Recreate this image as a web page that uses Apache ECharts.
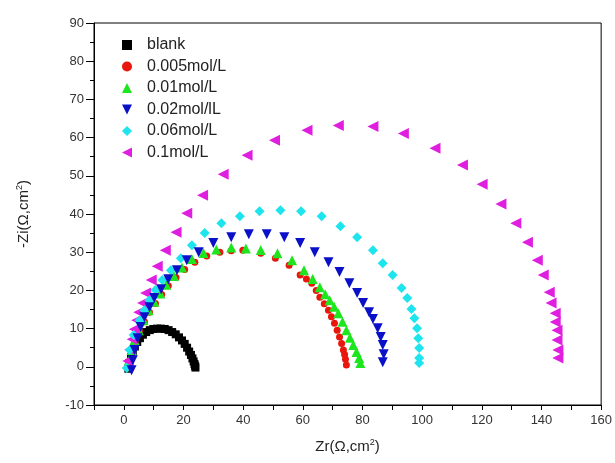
<!DOCTYPE html>
<html>
<head>
<meta charset="utf-8">
<script src="https://cdn.jsdelivr.net/npm/echarts@6/dist/echarts.min.js"></script>
<style>
html, body { margin: 0; padding: 0; background: #fff; }
#main { width: 615px; height: 463px; }
</style>
</head>
<body>
<div id="main"></div>
<script>
// 图例名称
var seriesNames = ['blank', '0.005mol/L', '0.01mol/L', '0.02mol/lL', '0.06mol/L', '0.1mol/L'];

// blank
var blankX = [1.5, 1.9, 2.4, 3.0, 3.7, 4.5, 5.4, 6.4, 7.5, 8.7, 9.9, 11.1, 12.4, 13.7, 15.0, 16.2, 17.4, 18.5, 19.5, 20.4, 21.2, 21.9, 22.5, 23.0, 23.4, 23.7, 23.9, 24.0];
var blankY = [-0.5, 1.0, 2.5, 4.0, 5.3, 6.5, 7.5, 8.4, 9.1, 9.6, 9.9, 10.0, 10.0, 9.9, 9.6, 9.1, 8.5, 7.7, 6.9, 6.0, 5.0, 4.0, 3.1, 2.2, 1.4, 0.7, 0.2, -0.2];

// 0.005mol/L
var c1X = [1.8, 2.8, 3.8, 5.2, 6.9, 8.6, 10.6, 12.7, 14.9, 17.5, 20.4, 23.8, 27.8, 32.2, 36.0, 39.9, 45.9, 50.8, 55.4, 59.1, 61.2, 63.0, 64.5, 65.7, 67.2, 68.6, 69.6, 70.6, 71.5, 72.3, 73.0, 73.6, 74.0, 74.3, 74.6];
var c1Y = [1.5, 4.0, 6.6, 9.2, 11.8, 14.3, 16.6, 18.9, 21.2, 23.4, 25.5, 27.4, 29.0, 30.0, 30.4, 30.5, 29.7, 28.4, 26.6, 24.0, 23.0, 21.9, 20.0, 18.2, 16.5, 14.8, 13.1, 11.4, 9.6, 7.8, 6.1, 4.4, 3.2, 2.0, 0.5];

// 0.01mol/L
var c2X = [1.7, 2.6, 3.6, 5.0, 6.6, 8.3, 10.2, 12.2, 14.2, 16.8, 19.5, 22.8, 26.7, 31.0, 36.0, 40.9, 45.9, 51.5, 56.4, 60.4, 63.3, 65.7, 67.5, 69.0, 70.5, 71.9, 73.3, 74.6, 75.8, 76.9, 78.0, 78.9, 79.3];
var c2Y = [1.7, 4.4, 7.0, 9.6, 12.2, 14.8, 17.0, 19.2, 21.5, 23.8, 26.0, 28.2, 29.8, 30.7, 31.2, 31.0, 30.6, 29.7, 27.9, 25.3, 23.0, 20.8, 19.0, 17.4, 15.7, 14.0, 11.8, 9.6, 7.6, 5.7, 3.9, 2.3, 1.0];

// 0.02mol/L
var c3X = [2.6, 3.0, 3.6, 4.6, 5.6, 6.9, 8.6, 10.2, 12.5, 14.9, 17.8, 21.1, 25.1, 30.0, 36.0, 41.9, 47.9, 53.8, 59.1, 64.0, 68.6, 72.3, 75.6, 78.2, 80.2, 82.2, 83.5, 85.1, 86.1, 86.8, 87.1, 86.8];
var c3Y = [-0.9, 1.7, 4.4, 7.5, 10.4, 13.0, 15.6, 18.0, 20.3, 22.9, 25.3, 27.9, 30.0, 32.4, 33.9, 34.7, 34.7, 33.9, 32.4, 30.0, 27.4, 24.8, 21.9, 19.3, 16.7, 14.3, 12.5, 10.1, 7.8, 5.7, 3.3, 1.2];

// 0.06mol/L
var c4X = [1.0, 2.0, 3.3, 5.3, 6.9, 8.6, 10.6, 12.9, 15.8, 19.1, 22.8, 27.1, 32.7, 38.9, 45.5, 52.5, 59.4, 66.3, 72.6, 78.2, 83.5, 86.8, 90.1, 93.1, 95.0, 96.4, 97.4, 98.3, 98.7, 99.0, 99.0, 99.0];
var c4Y = [-0.3, 4.4, 8.3, 12.2, 14.8, 17.4, 20.1, 22.7, 25.3, 28.4, 31.8, 35.0, 37.6, 39.4, 40.7, 41.0, 40.7, 39.4, 36.8, 33.9, 30.5, 27.1, 24.0, 20.6, 18.0, 15.1, 12.7, 10.1, 7.5, 4.9, 2.3, 1.0];

// 0.1mol/L
var c5X = [1.3, 2.0, 2.8, 3.5, 4.3, 5.0, 6.3, 7.3, 9.2, 11.2, 13.9, 17.5, 21.1, 26.4, 33.3, 41.3, 50.5, 61.4, 71.9, 83.5, 93.7, 104.3, 113.5, 120.1, 126.4, 131.4, 135.3, 138.6, 140.6, 142.6, 143.2, 144.6, 144.6, 145.2, 145.2, 145.5, 145.5];
var c5Y = [1.5, 4.5, 7.2, 9.8, 12.2, 14.3, 16.7, 19.3, 22.7, 26.3, 30.5, 35.2, 40.2, 44.9, 50.4, 55.4, 59.3, 61.9, 63.2, 62.9, 61.1, 57.2, 52.8, 47.8, 42.6, 37.6, 32.6, 27.9, 24.0, 19.5, 16.7, 14.0, 11.7, 9.6, 7.0, 4.4, 2.3];

var xTickLabels = [0, 20, 40, 60, 80, 100, 120, 140, 160];

function zip(xs, ys) {
	var arr = [];
	for(var i = 0; i < xs.length; i++) {
		arr.push([xs[i], ys[i]]);
	}
	return arr;
}

var seriesX = [blankX, c1X, c2X, c3X, c4X, c5X];
var seriesY = [blankY, c1Y, c2Y, c3Y, c4Y, c5Y];
var symbols = ['rect', 'circle', 'triangle', 'triangle', 'diamond', 'triangle'];
var rotates = [0, 0, 0, 180, 0, 90];
var sizes = [8, 7, 10, 10, 10, 11];
var colors = ['#000000', '#e8160c', '#1ee61e', '#0a10c8', '#1ee4ee', '#e01ee0'];
var zs = [1, 2, 3, 6, 5, 4];
// 图例图标(旋转的三角形用path)
var legendIcons = ['rect', 'circle', 'triangle', 'path://M0,0L10,0L5,10Z', 'diamond', 'path://M10,0L10,10L0,5Z'];

var series = [];
var legendData = [];
for(var k = 0; k < seriesNames.length; k++) {
	series.push({
		name: seriesNames[k],
		type: 'scatter',
		data: zip(seriesX[k], seriesY[k]),
		symbol: symbols[k],
		symbolRotate: rotates[k],
		symbolSize: sizes[k],
		itemStyle: { color: colors[k], opacity: 1 },
		z: zs[k],
		animation: false
	});
	legendData.push({ name: seriesNames[k], icon: legendIcons[k] });
}

var labelFont = { fontFamily: 'Liberation Sans, Arial, sans-serif', fontSize: 13, color: '#333' };

var option = {
	animation: false,
	grid: {
		left: 94,
		right: 8,
		top: 23,
		bottom: 58,
		show: true,
		borderColor: '#000',
		borderWidth: 1
	},
	legend: {
		orient: 'vertical',
		left: 117,
		top: 32,
		itemWidth: 10,
		itemHeight: 10,
		itemGap: 5.5,
		data: legendData,
		textStyle: {
			fontFamily: 'Liberation Sans, Arial, sans-serif',
			fontSize: 16,
			color: '#222',
			padding: [0, 0, 0, 10]
		}
	},
	xAxis: {
		type: 'value',
		min: -10,
		max: 160,
		interval: 10,
		name: 'Zr(Ω,cm{sup|2})',
		nameLocation: 'middle',
		nameGap: 33,
		nameTextStyle: {
			fontFamily: 'Liberation Sans, Arial, sans-serif',
			fontSize: 15,
			color: '#222',
			rich: { sup: { fontSize: 9, verticalAlign: 'top', padding: [0, 0, 8, 0] } }
		},
		axisLine: { onZero: false, lineStyle: { color: '#000', width: 1 } },
		axisTick: { length: 5, lineStyle: { color: '#000' } },
		axisLabel: {
			margin: 9,
			fontFamily: labelFont.fontFamily,
			fontSize: labelFont.fontSize,
			color: labelFont.color,
			formatter: function(v) {
				return xTickLabels.indexOf(v) >= 0 ? String(v) : '';
			}
		},
		splitLine: { show: false }
	},
	yAxis: {
		type: 'value',
		min: -10,
		max: 90,
		interval: 10,
		name: '-Zi(Ω,cm{sup|2})',
		nameLocation: 'middle',
		nameGap: 62,
		nameTextStyle: {
			fontFamily: 'Liberation Sans, Arial, sans-serif',
			fontSize: 15,
			color: '#222',
			rich: { sup: { fontSize: 9, verticalAlign: 'top', padding: [0, 0, 8, 0] } }
		},
		axisLine: { onZero: false, lineStyle: { color: '#000', width: 1 } },
		axisTick: { length: 8, lineStyle: { color: '#000' } },
		minorTick: { show: true, splitNumber: 2, length: 4, lineStyle: { color: '#000' } },
		axisLabel: {
			margin: 10,
			fontFamily: labelFont.fontFamily,
			fontSize: labelFont.fontSize,
			color: labelFont.color
		},
		splitLine: { show: false }
	},
	series: series
};

var chart = echarts.init(document.getElementById('main'));
chart.setOption(option);
</script>
</body>
</html>
